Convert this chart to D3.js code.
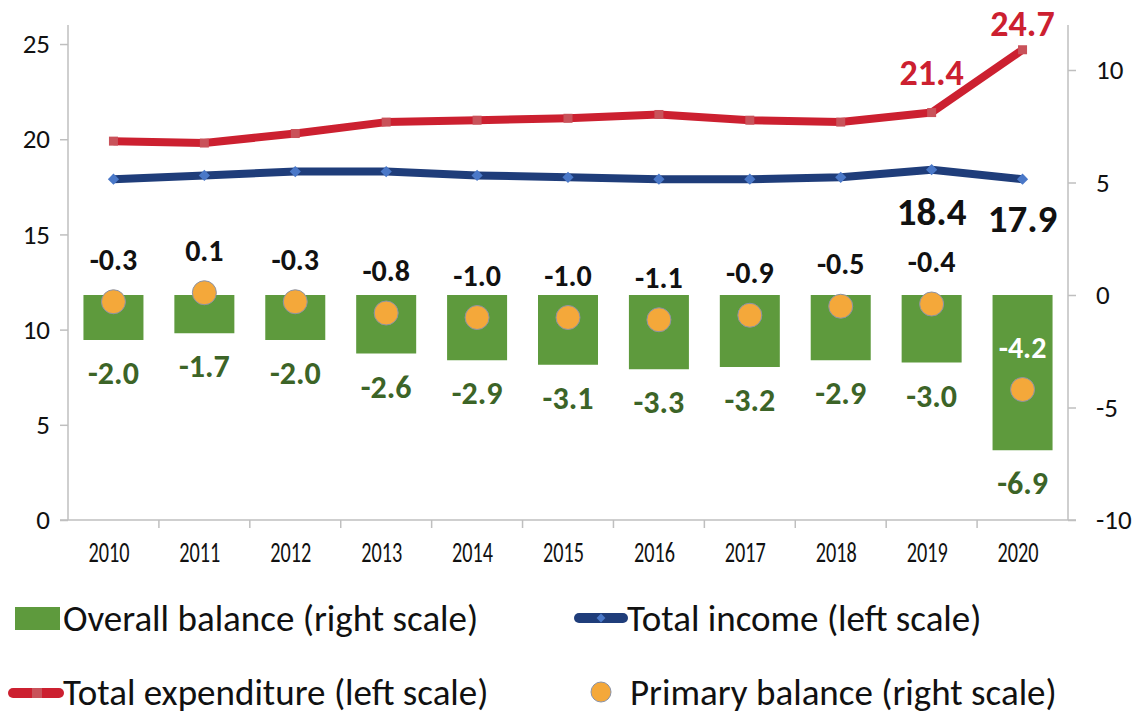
<!DOCTYPE html>
<html lang="en">
<head>
    <meta charset="UTF-8">
    <title>fiscal balance</title>
    <script src="https://cdn.jsdelivr.net/npm/d3@7/dist/d3.min.js"></script>
    <style>
        body { margin: 0; background: #fff; }
        svg { display: block; font-family: Carlito, Lato, 'Open Sans', sans-serif; }
    </style>
</head>
<body>
    <svg width="1133" height="715" id="mainsvg"></svg>
    <script>
        // data
        const years = ['2010', '2011', '2012', '2013', '2014', '2015', '2016', '2017', '2018', '2019', '2020'];
        const overallBalance = [-2.0, -1.7, -2.0, -2.6, -2.9, -3.1, -3.3, -3.2, -2.9, -3.0, -6.9];
        const primaryBalance = [-0.3, 0.1, -0.3, -0.8, -1.0, -1.0, -1.1, -0.9, -0.5, -0.4, -4.2];
        const totalIncome = [17.9, 18.1, 18.3, 18.3, 18.1, 18.0, 17.9, 17.9, 18.0, 18.4, 17.9];
        const totalExpenditure = [19.9, 19.8, 20.3, 20.9, 21.0, 21.1, 21.3, 21.0, 20.9, 21.4, 24.7];
        const leftTicks = [0, 5, 10, 15, 20, 25];
        const rightTicks = [-10, -5, 0, 5, 10];

        const svg = d3.select('#mainsvg');
        const plotL = 68, plotR = 1068, plotT = 25, plotB = 520;

        const x = d3.scaleBand().domain(years).range([plotL, plotR]).paddingInner(0.34).paddingOuter(0.17);
        const yL = d3.scaleLinear().domain([0, 26]).range([plotB, plotT]);
        const yR = d3.scaleLinear().domain([-10, 12]).range([plotB, plotT]);
        const cx = d => x(d) + x.bandwidth() / 2;

        const axisColor = '#bfbfbf';
        const green = '#5e9a3d', darkGreen = '#3c6427', red = '#cc2030', navy = '#1f3d7a';

        // axes (hyphen minus like the original, not the unicode minus)
        const gl = svg.append('g').attr('transform', `translate(${plotL},0)`)
            .call(d3.axisLeft(yL).tickValues(leftTicks).tickFormat(d => String(d))
                .tickSize(8).tickPadding(10).tickSizeOuter(0));
        const gr = svg.append('g').attr('transform', `translate(${plotR},0)`)
            .call(d3.axisRight(yR).tickValues(rightTicks).tickFormat(d => String(d))
                .tickSize(8).tickPadding(20).tickSizeOuter(0));
        [gl, gr].forEach(g => {
            g.attr('font-family', null).attr('font-size', null);
            g.select('.domain').attr('stroke', axisColor).attr('stroke-width', 1.5)
                .attr('d', `M0,${plotT}V${plotB}`);
            g.selectAll('.tick line').attr('stroke', axisColor).attr('stroke-width', 1.5);
            g.selectAll('.tick text').attr('font-size', 27).attr('fill', '#111');
        });

        // category axis at left zero
        const step = x.step();
        svg.append('line').attr('x1', plotL - 8).attr('x2', plotR + 8).attr('y1', plotB).attr('y2', plotB)
            .attr('stroke', axisColor).attr('stroke-width', 1.5);
        svg.selectAll('.xtick').data(years.slice(1)).join('line').attr('class', 'xtick')
            .attr('x1', d => x(d) - (step - x.bandwidth()) / 2)
            .attr('x2', d => x(d) - (step - x.bandwidth()) / 2)
            .attr('y1', plotB).attr('y2', plotB + 8)
            .attr('stroke', axisColor).attr('stroke-width', 1.5);
        svg.selectAll('.xlabel').data(years).join('text').attr('class', 'xlabel')
            .attr('x', d => cx(d) - 25).attr('y', 562)
            .attr('font-size', 28).attr('fill', '#111')
            .attr('textLength', 41).attr('lengthAdjust', 'spacingAndGlyphs')
            .text(d => d);

        // overall balance bars (right scale)
        svg.selectAll('.bar').data(years).join('rect').attr('class', 'bar')
            .attr('x', d => x(d))
            .attr('width', x.bandwidth())
            .attr('y', yR(0))
            .attr('height', (d, i) => yR(overallBalance[i]) - yR(0))
            .attr('fill', green);

        // lines
        const line = d3.line().x((d, i) => cx(years[i])).y(d => yL(d));
        svg.append('path').attr('d', line(totalExpenditure)).attr('fill', 'none')
            .attr('stroke', red).attr('stroke-width', 8).attr('stroke-linejoin', 'round');
        svg.selectAll('.sq').data(totalExpenditure).join('rect').attr('class', 'sq')
            .attr('x', (d, i) => cx(years[i]) - 4.5).attr('y', d => yL(d) - 4.5)
            .attr('width', 9).attr('height', 9).attr('fill', '#c9525a');

        svg.append('path').attr('d', line(totalIncome)).attr('fill', 'none')
            .attr('stroke', navy).attr('stroke-width', 8).attr('stroke-linejoin', 'round');
        svg.selectAll('.dia').data(totalIncome).join('path').attr('class', 'dia')
            .attr('d', d3.symbol(d3.symbolDiamond2, 80))
            .attr('transform', (d, i) => `translate(${cx(years[i])},${yL(d)})`)
            .attr('fill', '#4a78c8');

        // primary balance dots
        svg.selectAll('.dot').data(primaryBalance).join('circle').attr('class', 'dot')
            .attr('cx', (d, i) => cx(years[i])).attr('cy', d => yR(d)).attr('r', 12)
            .attr('fill', '#f4a83a').attr('stroke', '#8a93a8').attr('stroke-width', 1);

        // data labels
        svg.selectAll('.pbl').data(primaryBalance).join('text').attr('class', 'pbl')
            .attr('x', (d, i) => cx(years[i])).attr('y', d => yR(d) - 32)
            .attr('text-anchor', 'middle').attr('font-size', 30).attr('font-weight', 'bold')
            .attr('fill', (d, i) => i === years.length - 1 ? '#fff' : '#111')
            .text(d => d.toFixed(1));
        svg.selectAll('.obl').data(overallBalance).join('text').attr('class', 'obl')
            .attr('x', (d, i) => cx(years[i])).attr('y', d => yR(d) + 44)
            .attr('text-anchor', 'middle').attr('font-size', 32).attr('font-weight', 'bold')
            .attr('fill', darkGreen).text(d => d.toFixed(1));

        const lastTwo = [9, 10];
        const exOffset = [-28, -14];
        const inOffset = [55, 53];
        svg.selectAll('.exl').data(lastTwo).join('text').attr('class', 'exl')
            .attr('x', i => cx(years[i])).attr('y', (i, k) => yL(totalExpenditure[i]) + exOffset[k])
            .attr('text-anchor', 'middle').attr('font-size', 36).attr('font-weight', 'bold')
            .attr('fill', red).text(i => totalExpenditure[i].toFixed(1));
        svg.selectAll('.inl').data(lastTwo).join('text').attr('class', 'inl')
            .attr('x', i => cx(years[i])).attr('y', (i, k) => yL(totalIncome[i]) + inOffset[k])
            .attr('text-anchor', 'middle').attr('font-size', 39).attr('font-weight', 'bold')
            .attr('fill', '#111').text(i => totalIncome[i].toFixed(1));

        // legend
        const lg = svg.append('g').attr('font-size', 37).attr('fill', '#111');
        lg.append('rect').attr('x', 15).attr('y', 607).attr('width', 45).attr('height', 23).attr('fill', green);
        lg.append('text').attr('x', 63).attr('y', 631).text('Overall balance (right scale)');

        lg.append('line').attr('x1', 579).attr('x2', 623).attr('y1', 618).attr('y2', 618)
            .attr('stroke', navy).attr('stroke-width', 10).attr('stroke-linecap', 'round');
        lg.append('path').attr('d', d3.symbol(d3.symbolDiamond2, 50))
            .attr('transform', 'translate(601,618)').attr('fill', '#4a78c8');
        lg.append('text').attr('x', 627).attr('y', 631).text('Total income (left scale)');

        lg.append('line').attr('x1', 13).attr('x2', 59).attr('y1', 693).attr('y2', 693)
            .attr('stroke', red).attr('stroke-width', 10).attr('stroke-linecap', 'round');
        lg.append('rect').attr('x', 32).attr('y', 688).attr('width', 10).attr('height', 10).attr('fill', '#c9525a');
        lg.append('text').attr('x', 63).attr('y', 705).text('Total expenditure (left scale)');

        lg.append('circle').attr('cx', 601).attr('cy', 692).attr('r', 10)
            .attr('fill', '#f4a83a').attr('stroke', '#8a93a8').attr('stroke-width', 1);
        lg.append('text').attr('x', 630).attr('y', 705).text('Primary balance (right scale)');
    </script>
</body>
</html>
